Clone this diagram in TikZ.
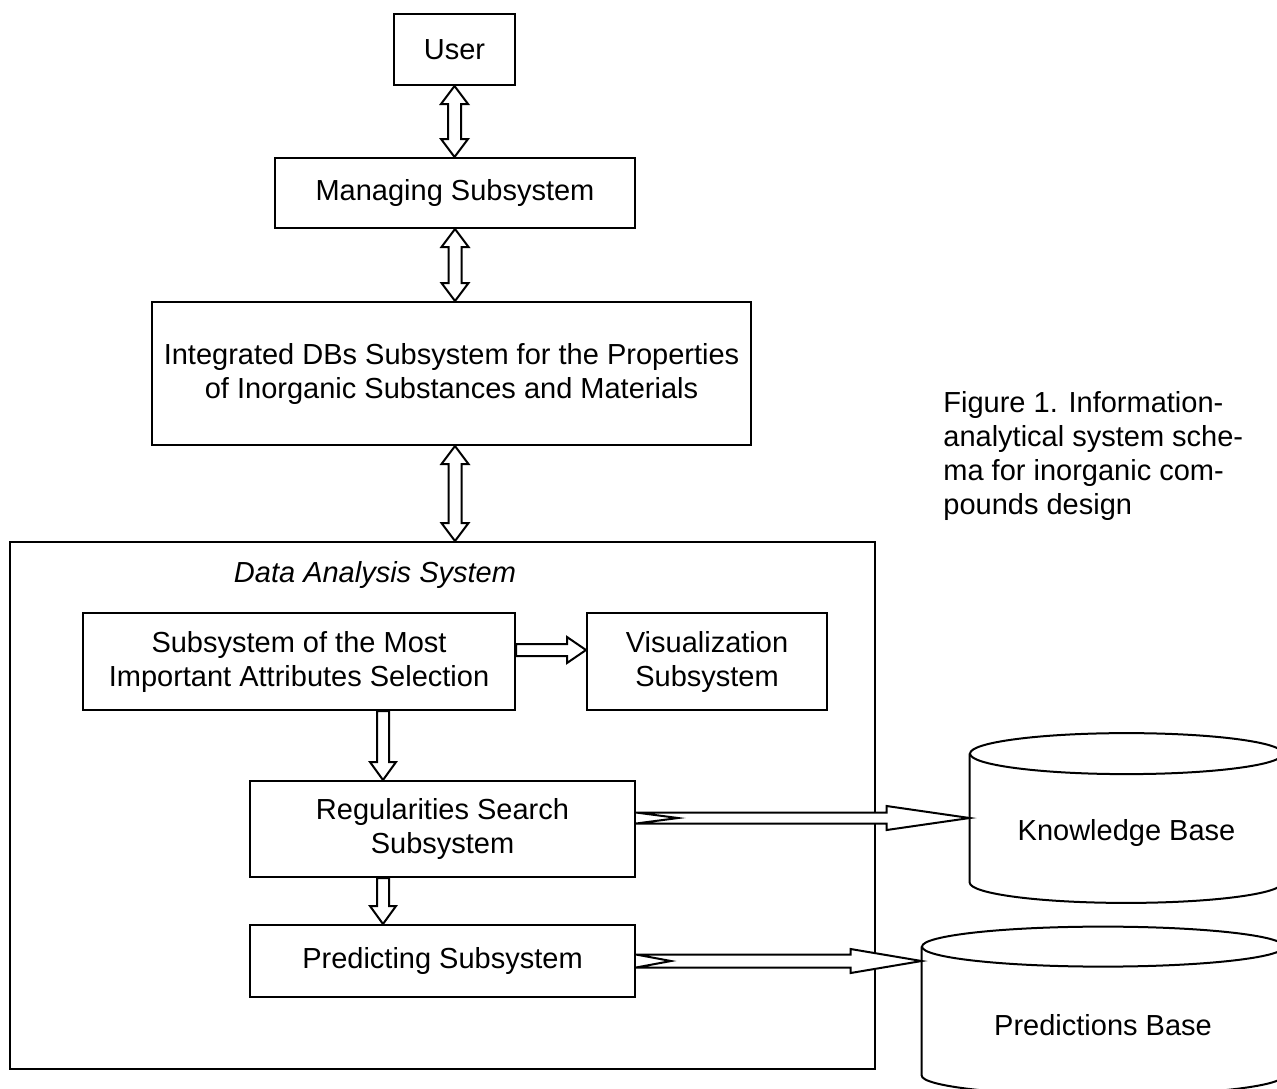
\documentclass[tikz,border=0pt]{standalone}
\usepackage{fontspec}
\setmainfont{Liberation Sans}
\usetikzlibrary{calc}
% hollow block arrows between two points
\newcommand{\dblarrow}[2]{\draw[blockarrow] let \p1=(#1), \p2=(#2) in
  (\x1,\y1) -- (\x1-6.75pt,\y1-9pt) -- (\x1-3.25pt,\y1-9pt) -- (\x1-3.25pt,\y2+9pt) -- (\x1-6.75pt,\y2+9pt) -- (\x1,\y2)
  -- (\x1+6.75pt,\y2+9pt) -- (\x1+3.25pt,\y2+9pt) -- (\x1+3.25pt,\y1-9pt) -- (\x1+6.75pt,\y1-9pt) -- cycle;}
\newcommand{\blockdown}[2]{\draw[blockarrow] let \p1=(#1), \p2=(#2) in
  (\x1-3pt,\y1) -- (\x1-3pt,\y2+9pt) -- (\x1-6.5pt,\y2+9pt) -- (\x1,\y2) -- (\x1+6.5pt,\y2+9pt) -- (\x1+3pt,\y2+9pt) -- (\x1+3pt,\y1) -- cycle;}
\newcommand{\blockright}[2]{\draw[blockarrow] let \p1=(#1), \p2=(#2) in
  (\x1,\y1+3pt) -- (\x2-9.5pt,\y1+3pt) -- (\x2-9.5pt,\y1+6.5pt) -- (\x2,\y1) -- (\x2-9.5pt,\y1-6.5pt) -- (\x2-9.5pt,\y1-3pt) -- (\x1,\y1-3pt) -- cycle;}
\newcommand{\notcharrow}[6]{\draw[blockarrow] let \p1=(#1), \p2=(#2) in
  (\x1,\y1+#3) -- (\x2-#5,\y1+#3) -- (\x2-#5,\y1+#4) -- (\x2,\y1) -- (\x2-#5,\y1-#4) -- (\x2-#5,\y1-#3) -- (\x1,\y1-#3) -- (\x1+#6,\y1) -- cycle;}

\begin{document}
\begin{tikzpicture}[x=0.5pt, y=-0.5pt, font=\fontsize{14.5}{17}\selectfont,
  box/.style={draw, line width=1pt, inner sep=0pt, align=center},
  blockarrow/.style={draw, fill=white, line width=1pt, line join=miter},
  dbline/.style={draw, line width=1pt}]
\useasboundingbox (0,0) rectangle (1277,1088);
\clip (0,0) rectangle (1277,1088);
% boxes
\node[box, minimum width=60.5pt, minimum height=35.5pt] (user) at (454.5,49.5) {User};
\node[box, minimum width=180pt, minimum height=35pt] (man) at (455,193) {Managing Subsystem};
\node[box, minimum width=299.5pt, minimum height=71.5pt] (int) at (451.5,373.5) {Integrated DBs Subsystem for the Properties\\of Inorganic Substances and Materials};
\node[box, minimum width=432.5pt, minimum height=263.5pt] (das) at (442.5,805.5) {};
\node[font=\fontsize{14.5}{17}\selectfont\itshape] (dastitle) at (375,575) {Data Analysis System};
\node[box, minimum width=216pt, minimum height=48.5pt] (sel) at (299,661.5) {Subsystem of the Most\\Important Attributes Selection};
\node[box, minimum width=120pt, minimum height=48.5pt] (vis) at (707,661.5) {Visualization\\Subsystem};
\node[box, minimum width=192.5pt, minimum height=48pt] (reg) at (442.5,829) {Regularities Search\\Subsystem};
\node[box, minimum width=192.5pt, minimum height=36pt] (pred) at (442.5,961) {Predicting Subsystem};
% bases
\node[inner sep=0pt, minimum width=156.5pt, minimum height=64pt] (kb) at (1126.5,818) {};
\node (kbtext) at (1126.5,833) {Knowledge Base};
\node[inner sep=0pt, minimum width=181pt, minimum height=64pt] (pb) at (1103,1011) {};
\node (pbtext) at (1103,1025) {Predictions Base};
\draw[dbline] (kb.north west) -- (kb.south west) arc[start angle=180, end angle=360, x radius=78.25pt, y radius=10.25pt] -- (kb.north east);
\draw[dbline] (kb.north) ellipse[x radius=78.25pt, y radius=10.25pt];
\draw[dbline] (pb.north west) -- (pb.south west) arc[start angle=180, end angle=360, x radius=90.5pt, y radius=10pt] -- (pb.north east);
\draw[dbline] (pb.north) ellipse[x radius=90.5pt, y radius=10pt];
% caption
\node[anchor=north west, align=left, inner sep=0pt] (caption) at (943,391) {Figure 1. Information-\\analytical system sche-\\ma for inorganic com-\\pounds design};
% arrows
\dblarrow{user.south}{man.north}
\dblarrow{man.south}{int.north -| man.south}
\dblarrow{man.south |- int.south}{das.north -| man.south}
\blockright{[yshift=5.75pt]sel.east}{vis.west}
\blockdown{[xshift=42pt]sel.south}{reg.north}
\blockdown{[xshift=-29.75pt]reg.south}{pred.north}
\notcharrow{reg.east |- kb.west}{kb.west}{2.75pt}{6pt}{41.5pt}{21pt}
\notcharrow{pred.east}{pb.west |- pred.east}{3.25pt}{6pt}{35.5pt}{17.5pt}
\end{tikzpicture}
\end{document}
